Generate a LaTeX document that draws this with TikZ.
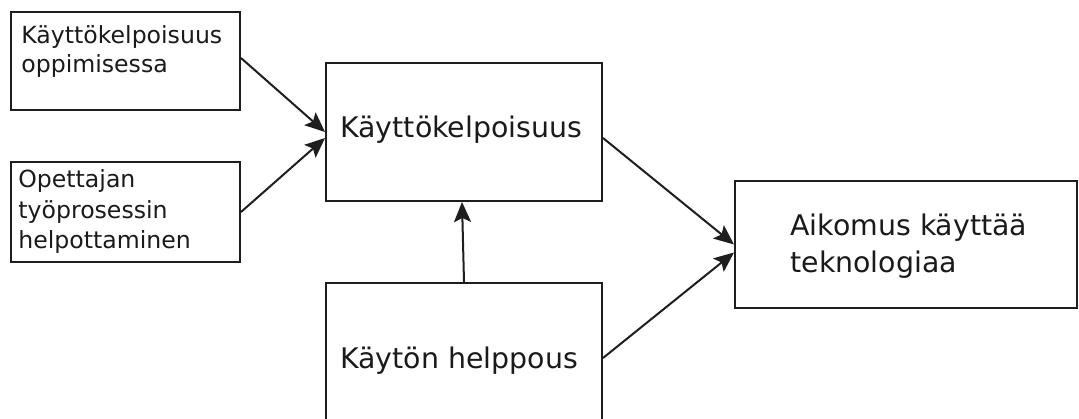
\documentclass[tikz,border=0pt]{standalone}
\usepackage{fontspec}
\setmainfont{DejaVu Sans}
\usetikzlibrary{arrows.meta,calc}
\definecolor{linec}{HTML}{1E1E1E}
\definecolor{textc}{HTML}{1A1A1A}
\tikzset{
  box/.style={draw=linec, line width=1pt, rectangle, inner sep=0pt, fill=white},
  bigtxt/.style={anchor=base west, inner sep=0pt, text=textc, font=\fontsize{14.2}{18}\selectfont},
  smalltxt/.style={anchor=base west, inner sep=0pt, text=textc, font=\fontsize{11.8}{14.5}\selectfont},
  conn/.style={draw=linec, line width=1pt, -{Stealth[length=10pt,width=8.5pt,inset=2pt]}},
}
\begin{document}
\begin{tikzpicture}[x=0.5pt,y=-0.5pt]
\useasboundingbox (0,0) rectangle (1079,418);
\clip (0,0) rectangle (1079,418);
\fill[white] (0,0) rectangle (1079,418);
% boxes
\node[box, minimum width=114.5pt, minimum height=49pt] (b1) at (125.5,61) {};
\node[box, minimum width=114.5pt, minimum height=50pt] (b2) at (125.5,212) {};
\node[box, minimum width=138pt, minimum height=69pt] (b3) at (464,132) {};
\node[box, minimum width=138pt, minimum height=75pt] (b4) at (464,358) {};
\node[box, minimum width=171pt, minimum height=63.5pt] (b5) at (906,244.5) {};
% texts
\node[smalltxt] (t1a) at (21,43) {Käyttökelpoisuus};
\node[smalltxt] (t1b) at (21,72) {oppimisessa};
\node[smalltxt] (t2a) at (18,187) {Opettajan};
\node[smalltxt] (t2b) at (18,218) {työprosessin};
\node[smalltxt] (t2c) at (18,248) {helpottaminen};
\node[bigtxt] (t3) at (340,137) {Käyttökelpoisuus};
\node[bigtxt] (t4) at (340,368) {Käytön helppous};
\node[bigtxt] (t5a) at (790,235) {Aikomus käyttää};
\node[bigtxt] (t5b) at (790,272) {teknologiaa};
% connectors
\draw[conn] ([yshift=1.5pt]b1.east) -- (b3.west);
\draw[conn] (b2.east) -- ([yshift=-3pt]b3.west);
\draw[conn] (b4.north) -- ([xshift=-1pt]b3.south);
\draw[conn] ([yshift=-3pt]b3.east) -- (b5.west);
\draw[conn] (b4.east) -- ([yshift=-4pt]b5.west);
\end{tikzpicture}
\end{document}
